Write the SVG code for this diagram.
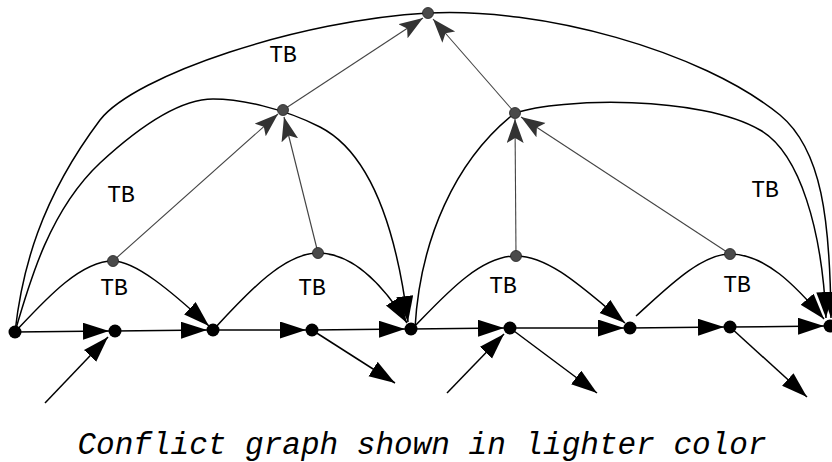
<svg xmlns="http://www.w3.org/2000/svg" width="832" height="462" viewBox="0 0 832 462">
<style>
.arc{fill:none;stroke:#000;stroke-width:1.5}
.ln{fill:none;stroke:#000;stroke-width:1.5}
.cf{fill:none;stroke:#444;stroke-width:1.1}
.bn{fill:#000}
.gn{fill:#4a4a4a;stroke:#222;stroke-width:0.8}
.tb{font-family:"Liberation Mono","Courier New",monospace;font-size:23px;fill:#000;text-anchor:middle}
.cap{font-family:"Liberation Mono","Courier New",monospace;font-size:31px;font-style:italic;fill:#000;text-anchor:middle}
</style>
<defs>
<marker id="ah" markerUnits="userSpaceOnUse" markerWidth="28" markerHeight="18" viewBox="0 0 28 18" refX="26" refY="8.5" orient="auto">
<path d="M0,0 L26,8.5 L0,17 z" fill="#000"/>
</marker>
<marker id="gh" markerUnits="userSpaceOnUse" markerWidth="26" markerHeight="18" viewBox="0 0 26 18" refX="24" refY="8.5" orient="auto">
<path d="M0,0 L24,8.5 L0,17 L5,8.5 z" fill="#333"/>
</marker>
</defs>
<rect width="832" height="462" fill="#fff"/>
<g id="connectors">
<g id="main-line">
<path class="ln" d="M15,332 L109,331" marker-end="url(#ah)"/>
<path class="ln" d="M115,331 L207,330" marker-end="url(#ah)"/>
<path class="ln" d="M213,330 L306,330" marker-end="url(#ah)"/>
<path class="ln" d="M312,330 L405,329" marker-end="url(#ah)"/>
<path class="ln" d="M411,329 L504,328" marker-end="url(#ah)"/>
<path class="ln" d="M510,328 L624,328" marker-end="url(#ah)"/>
<path class="ln" d="M630,328 L724,327" marker-end="url(#ah)"/>
<path class="ln" d="M730,327 L824,326" marker-end="url(#ah)"/>
</g>
<g id="side-arrows">
<path class="ln" d="M45,403 L108,337" marker-end="url(#ah)"/>
<path class="ln" d="M447,393 L504,334" marker-end="url(#ah)"/>
<path class="ln" d="M312,330 L395,383" marker-end="url(#ah)"/>
<path class="ln" d="M510,328 L597,393" marker-end="url(#ah)"/>
<path class="ln" d="M730,327 L807,397" marker-end="url(#ah)"/>
</g>
<g id="tb-arcs">
<path class="arc" d="M15,332 C45,300 80,261 113,261 C135,261 170,290 209,326" marker-end="url(#ah)"/>
<path class="arc" d="M215,328 C250,290 285,253 318,253 C350,253 380,280 407,323" marker-end="url(#ah)"/>
<path class="arc" d="M415,326 C445,295 480,256 516,256 C550,256 585,290 625,323" marker-end="url(#ah)"/>
<path class="arc" d="M636,316 C665,290 700,254 730,254 C765,254 795,285 824,319" marker-end="url(#ah)"/>
<path class="arc" d="M15,332 C30,280 50,210 100,163 C140,126 180,99 213,99 C240,99 283,108 320,127 C355,145 392,195 408,322" marker-end="url(#ah)"/>
<path class="arc" d="M415,328 C420,240 455,160 515,113 C560,98 700,95 760,130 C800,153 822,230 826,318" marker-end="url(#ah)"/>
<path class="arc" d="M15,332 C22,270 40,200 100,120 C135,75 300,20 428,13 C540,7 700,50 780,115 C822,150 830,220 831,318" marker-end="url(#ah)"/>
</g>
<g id="conflict-arrows">
<path class="cf" d="M113,261 L278,114" marker-end="url(#gh)"/>
<path class="cf" d="M318,253 L284,117" marker-end="url(#gh)"/>
<path class="cf" d="M283,110 L423,18" marker-end="url(#gh)"/>
<path class="cf" d="M515,113 L433,19" marker-end="url(#gh)"/>
<path class="cf" d="M516,256 L515,119" marker-end="url(#gh)"/>
<path class="cf" d="M730,254 L521,117" marker-end="url(#gh)"/>
</g>
</g>
<g id="n1"><circle class="bn" cx="15" cy="332" r="6.5"/></g>
<g id="n2"><circle class="bn" cx="115" cy="331" r="6.5"/></g>
<g id="n3"><circle class="bn" cx="213" cy="330" r="6.5"/></g>
<g id="n4"><circle class="bn" cx="312" cy="330" r="6.5"/></g>
<g id="n5"><circle class="bn" cx="411" cy="329" r="6.5"/></g>
<g id="n6"><circle class="bn" cx="510" cy="328" r="6.5"/></g>
<g id="n7"><circle class="bn" cx="630" cy="328" r="6.5"/></g>
<g id="n8"><circle class="bn" cx="730" cy="327" r="6.5"/></g>
<g id="n9"><circle class="bn" cx="830" cy="326" r="6.5"/></g>
<g id="c1"><circle class="gn" cx="113" cy="261" r="5.5"/></g>
<g id="c2"><circle class="gn" cx="318" cy="253" r="5.5"/></g>
<g id="c3"><circle class="gn" cx="516" cy="256" r="5.5"/></g>
<g id="c4"><circle class="gn" cx="730" cy="254" r="5.5"/></g>
<g id="c5"><circle class="gn" cx="283" cy="110" r="5.5"/></g>
<g id="c6"><circle class="gn" cx="515" cy="113" r="5.5"/></g>
<g id="c7"><circle class="gn" cx="428" cy="13" r="5.5"/></g>
<g id="labels">
<text class="tb" x="283" y="62">TB</text>
<text class="tb" x="121" y="202">TB</text>
<text class="tb" x="114" y="295">TB</text>
<text class="tb" x="312" y="295">TB</text>
<text class="tb" x="503" y="293">TB</text>
<text class="tb" x="737" y="292">TB</text>
<text class="tb" x="765" y="197">TB</text>
<text class="cap" x="422" y="454" textLength="689" lengthAdjust="spacingAndGlyphs">Conflict graph shown in lighter color</text>
</g>
</svg>
